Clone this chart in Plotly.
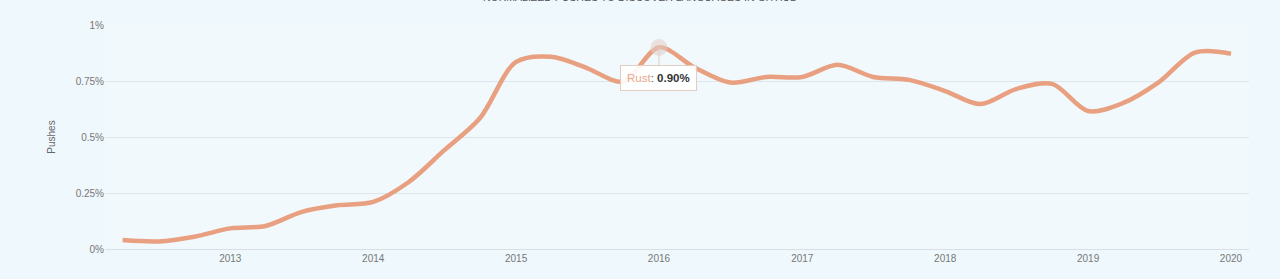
import plotly.graph_objects as go

dates = [
    "2012-04-01", "2012-07-01", "2012-10-01",
    "2013-01-01", "2013-04-01", "2013-07-01", "2013-10-01",
    "2014-01-01", "2014-04-01", "2014-07-01", "2014-10-01",
    "2015-01-01", "2015-04-01", "2015-07-01", "2015-10-01",
    "2016-01-01", "2016-04-01", "2016-07-01", "2016-10-01",
    "2017-01-01", "2017-04-01", "2017-07-01", "2017-10-01",
    "2018-01-01", "2018-04-01", "2018-07-01", "2018-10-01",
    "2019-01-01", "2019-04-01", "2019-07-01", "2019-10-01",
    "2020-01-01",
]
rust = [
    0.040, 0.034, 0.055,
    0.092, 0.103, 0.165, 0.195,
    0.210, 0.298, 0.440, 0.585,
    0.835, 0.858, 0.808, 0.747,
    0.900, 0.810, 0.743, 0.768,
    0.768, 0.822, 0.768, 0.755,
    0.705, 0.647, 0.714, 0.737,
    0.616, 0.652, 0.745, 0.877,
    0.872,
]
series_name = "Rust"
hover_date = "2016-01-01"
hover_value = rust[dates.index(hover_date)]

y_ticks = [0, 0.25, 0.5, 0.75, 1.0]
y_ticktext = ["0%", "0.25%", "0.5%", "0.75%", "1%"]
x_ticks = ["2013-01-01", "2014-01-01", "2015-01-01", "2016-01-01",
           "2017-01-01", "2018-01-01", "2019-01-01", "2020-01-01"]
x_ticktext = ["2013", "2014", "2015", "2016", "2017", "2018", "2019", "2020"]

LINE = "#e8a080"
FONT = "Liberation Sans, Arial, sans-serif"

fig = go.Figure()
fig.add_trace(go.Scatter(
    x=dates, y=rust, mode="lines", name=series_name,
    line=dict(color=LINE, width=4.5, shape="spline", smoothing=0.9),
    hoverinfo="skip",
))
fig.add_trace(go.Scatter(
    x=[hover_date], y=[hover_value], mode="markers",
    marker=dict(size=17, color="rgba(225,205,200,0.55)", line=dict(width=0)),
    hoverinfo="skip", showlegend=False,
))

fig.add_annotation(
    x=hover_date, y=hover_value, xref="x", yref="y",
    text=f"<span style='color:#eaa88c'>{series_name}</span><span style='color:#555'>: </span><b style='color:#333'>{hover_value:.2f}%</b>",
    showarrow=True, ax=0, ay=31, arrowhead=0, arrowwidth=1,
    arrowcolor="#e3cdc2",
    bgcolor="rgba(255,255,255,0.9)", bordercolor="#e3cdc2", borderwidth=1,
    borderpad=6, font=dict(family=FONT, size=11.5),
)

fig.add_annotation(
    x=0.4677, y=1.0, xref="paper", yref="paper", yshift=20,
    text="NORMALIZED PUSHES TO DISCOVER LANGUAGES IN GITHUB",
    showarrow=False, font=dict(family=FONT, size=10.5, color="#555"),
    xanchor="center", yanchor="bottom",
)

fig.update_layout(
    width=1280, height=279,
    margin=dict(l=105, r=31, t=25, b=30),
    paper_bgcolor="#eff8fc", plot_bgcolor="#f1f9fc",
    showlegend=False,
    font=dict(family=FONT, size=10, color="#777"),
    xaxis=dict(
        type="date", range=["2012-02-16", "2020-02-16"],
        tickvals=x_ticks, ticktext=x_ticktext,
        showgrid=False, zeroline=False, showline=True,
        linecolor="#d8e0e6", linewidth=1, ticks="",
        tickfont=dict(size=10, color="#777"),
    ),
    yaxis=dict(
        range=[0, 1.0], tickvals=y_ticks, ticktext=y_ticktext,
        showgrid=True, gridcolor="#dde6ec", gridwidth=1,
        zeroline=False, ticks="", ticklen=0,
        tickfont=dict(size=10, color="#777"),
        title=dict(text="Pushes", font=dict(size=10, color="#666"), standoff=18),
    ),
)

fig.write_html("out.html")
